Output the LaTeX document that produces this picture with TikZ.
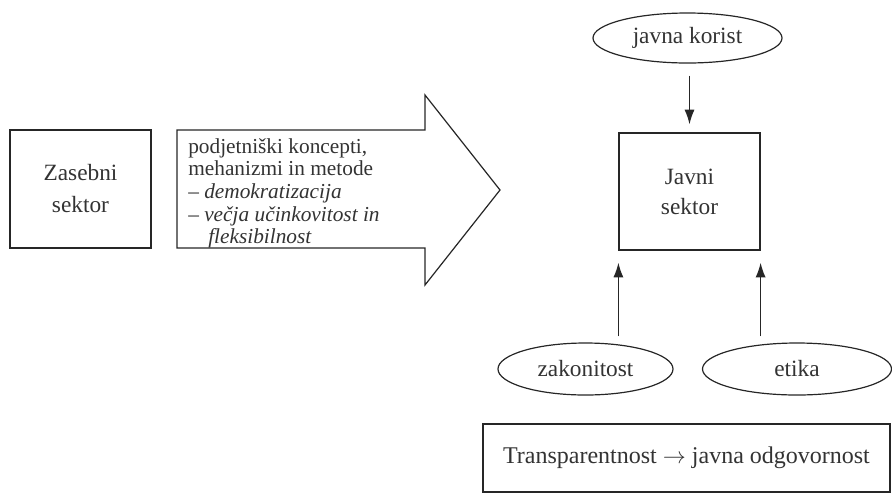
\documentclass[tikz,border=0pt]{standalone}
\usepackage{amsmath,amssymb,fontspec}
\setmainfont{Liberation Serif}
\usepackage{tikz}
\usetikzlibrary{calc}
\usetikzlibrary{shapes.geometric}
\usetikzlibrary{arrows.meta}
\tikzset{
	% Two node styles for the sectors: boxes and ovals
	sector box/.style={rectangle,draw,line width=0.9pt,align=center,font=\fontsize{17.5}{24}\selectfont},
	value oval/.style={ellipse,draw,line width=0.9pt,inner sep=0,font=\fontsize{17.5}{20}\selectfont},
	push arrow/.style={line width=1.1pt,-{Latex[length=11pt,width=7.5pt]}}
}

\begin{document}
\begin{tikzpicture}[x=0.75pt,y=-0.75pt,color=black!85,text=black!80]
			\useasboundingbox (0,0) rectangle (892,494);
			% Left side: private sector and the big arrow
			\node(zasebni)[sector box,minimum width=105.75pt,minimum height=88.5pt] at (80.5,189){Zasebni\\sektor};
			\draw[line width=0.9pt] (177,130) -- (425,130) -- (425,95) -- (500,190) -- (425,285) -- (425,248) -- (177,248) -- cycle;
			\node(koncepti)[anchor=north west,inner sep=0,align=left,font=\fontsize{16}{17}\selectfont] at (188,138)
				{podjetniški koncepti,\\mehanizmi in metode\\\textit{– demokratizacija}\\\textit{– večja učinkovitost in}\\\hspace*{15pt}\textit{fleksibilnost}};
			
			% Right side: public sector with its values
			\node(javni)[sector box,minimum width=105.75pt,minimum height=87.75pt,font=\fontsize{17.5}{22.5}\selectfont] at (689.5,191.5){Javni\\sektor};
			\node(korist)[value oval,minimum width=141.75pt,minimum height=37.5pt] at (687.5,38){javna korist};
			\node(zakon)[value oval,minimum width=131.25pt,minimum height=39pt] at (585.5,369){zakonitost};
			\node(etika)[value oval,minimum width=141.75pt,minimum height=39pt] at (797,369){etika};
			\node(transp)[sector box,minimum width=305.25pt,minimum height=51pt,font=\fontsize{18}{20}\selectfont] at (686.5,458){Transparentnost $\rightarrow$ javna odgovornost};
			
			\draw[push arrow,shorten <=9pt,shorten >=6pt] (javni.north |- korist.south) -- (javni.north);
			\draw[push arrow,shorten <=4.5pt,shorten >=9pt] (javni.south west |- zakon.north) -- (javni.south west);
			\draw[push arrow,shorten <=4.5pt,shorten >=9pt] (javni.south east |- etika.north) -- (javni.south east);
		\end{tikzpicture}
\end{document}
